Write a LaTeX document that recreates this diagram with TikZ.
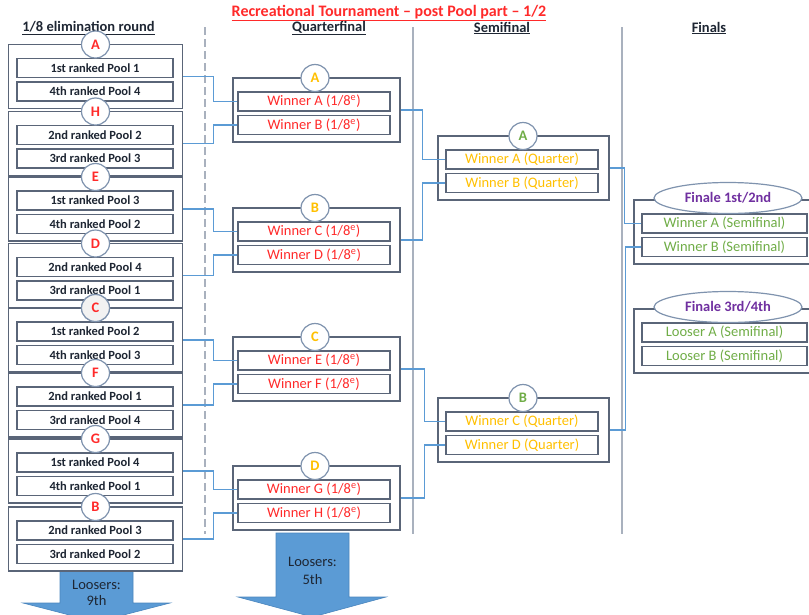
\documentclass[tikz,border=0pt]{standalone}
\usepackage{fontspec}
\setmainfont{Carlito}
\usetikzlibrary{shapes.geometric}
\definecolor{boxc}{HTML}{5A6578}
\definecolor{circc}{HTML}{7F93AE}
\definecolor{connc}{HTML}{5B9BD5}
\definecolor{vline}{HTML}{A9B1BE}
\definecolor{qred}{HTML}{FF2A2A}
\definecolor{qorange}{HTML}{FFC000}
\definecolor{sgreen}{HTML}{70AD47}
\definecolor{fpurple}{HTML}{7030A0}
\definecolor{txtdark}{HTML}{1E2633}
\definecolor{arrowfill}{HTML}{5B9BD5}
\definecolor{arrowline}{HTML}{4A85BD}
\newcommand\ElimGroup[5]{%
  \node[egrp] (#1) at (95.5,#2+32) {};
  \node[eslot] (#1a) at (95,#2+23.5) {#4};
  \node[eslot] (#1b) at (95,#2+47) {#5};
  \node[ltr,text=qred] (#1c) at (95.5,#2) {#3};
}
\newcommand\QuarterGroup[5]{%
  \node[qgrp] (#1) at (316.5,#2+32) {};
  \node[qslot] (#1a) at (314,#2+23.5) {#4};
  \node[qslot] (#1b) at (314,#2+47) {#5};
  \node[ltr,text=qorange] (#1c) at (315,#2) {#3};
}
\newcommand\SemiGroup[5]{%
  \node[sgrp] (#1) at (523.5,#2+32) {};
  \node[sslot] (#1a) at (522,#2+23.5) {#4};
  \node[sslot] (#1b) at (522,#2+47) {#5};
  \node[ltr,text=sgreen] (#1c) at (523,#2) {#3};
}
\newcommand\FinalGroup[5]{%
  \node[fgrp] (#1) at (734,#2+32) {};
  \node[fslot] (#1a) at (724.5,#2+23.5) {#4};
  \node[fslot] (#1b) at (724.5,#2+47) {#5};
  \node[fell] (#1c) at (728,#2-2) {#3};
}
\begin{document}
\begin{tikzpicture}[x=1pt,y=-1pt,
  grpbase/.style={draw=boxc, line width=1.5pt, minimum height=64pt, inner sep=0pt},
  egrp/.style={grpbase, minimum width=174pt},
  qgrp/.style={grpbase, minimum width=167pt},
  sgrp/.style={grpbase, minimum width=171pt},
  fgrp/.style={grpbase, minimum width=200pt},
  slotbase/.style={draw=boxc, line width=1.5pt, fill=white, minimum height=19pt, inner sep=0pt},
  eslot/.style={slotbase, minimum width=156pt, text=txtdark, font=\fontsize{12.5}{13}\selectfont\bfseries},
  qslot/.style={slotbase, minimum width=152pt, text=qred, font=\fontsize{14.5}{15}\selectfont},
  sslot/.style={slotbase, minimum width=152pt, text=qorange, font=\fontsize{14.5}{15}\selectfont},
  fslot/.style={slotbase, minimum width=165pt, text=sgreen, font=\fontsize{14.5}{15}\selectfont},
  ltr/.style={ellipse, draw=circc, line width=1.2pt, fill=white, minimum width=28pt, minimum height=27pt, inner sep=0pt, font=\fontsize{14.5}{15}\selectfont\bfseries},
  fell/.style={ellipse, draw=circc, line width=1.2pt, fill=white, minimum width=148pt, minimum height=31pt, inner sep=0pt, text=fpurple, font=\fontsize{14.5}{15}\selectfont\bfseries},
  conn/.style={draw=connc, line width=1.4pt},
  sepline/.style={draw=vline, line width=1.3pt},
  hdr/.style={text=txtdark, font=\fontsize{14.5}{15}\selectfont\bfseries, inner sep=0pt},
  arrowtxt/.style={text=txtdark, font=\fontsize{14.5}{15}\selectfont, inner sep=0pt, align=center},
  blockarrow/.style={fill=arrowfill, draw=arrowline, line width=0.6pt}
]
\useasboundingbox (0,0) rectangle (809,614);
\clip (0,0) rectangle (809,614);

% separators
\coordinate (d1) at (205,27); \coordinate (d2) at (205,534);
\coordinate (s1) at (413,27); \coordinate (s2) at (413,534);
\coordinate (t1) at (622,27); \coordinate (t2) at (622,534);
\draw[sepline, dash pattern=on 8pt off 4pt] (d1) -- (d2);
\draw[sepline] (s1) -- (s2);
\draw[sepline] (t1) -- (t2);

% title and headers
\node[text=qred, font=\fontsize{16}{17}\selectfont\bfseries, inner sep=0pt] (title) at (389,13) {\underline{Recreational Tournament – post Pool part – 1/2}};
\node[hdr] (h1) at (88.5,28) {\underline{1/8 elimination round}};
\node[hdr] (h2) at (329,28) {\underline{Quarterfinal}};
\node[hdr] (h3) at (502,28) {\underline{Semifinal}};
\node[hdr] (h4) at (709,28) {\underline{Finals}};

% block arrows
\draw[blockarrow] (60,571) -- (133,571) -- (133,603) -- (170,603) -- (96.5,622) -- (23,603) -- (60,603) -- cycle;
\draw[blockarrow] (276,533) -- (349,533) -- (349,597) -- (386,597) -- (312.5,617) -- (238,597) -- (276,597) -- cycle;
\node[arrowtxt] (l9a) at (96.5,585) {Loosers:};
\node[arrowtxt] (l9b) at (96.5,601) {9th};
\node[arrowtxt] (l5a) at (312.5,562) {Loosers:};
\node[arrowtxt] (l5b) at (312.5,580) {5th};

% 1/8 groups
\ElimGroup{gA}{44.5}{A}{1st ranked Pool 1}{4th ranked Pool 4}
\ElimGroup{gH}{111.5}{H}{2nd ranked Pool 2}{3rd ranked Pool 3}
\ElimGroup{gE}{177}{E}{1st ranked Pool 3}{4th ranked Pool 2}
\ElimGroup{gD}{243.5}{D}{2nd ranked Pool 4}{3rd ranked Pool 1}
\ElimGroup{gC}{308}{C}{1st ranked Pool 2}{4th ranked Pool 3}
\ElimGroup{gF}{373}{F}{2nd ranked Pool 1}{3rd ranked Pool 4}
\ElimGroup{gG}{439}{G}{1st ranked Pool 4}{4th ranked Pool 1}
\ElimGroup{gB}{507}{B}{2nd ranked Pool 3}{3rd ranked Pool 2}
\node[ltr,text=qred,fill=gray!10] at (gCc) {C};

% quarter groups
\QuarterGroup{qA}{78}{A}{Winner A (1/8\textsuperscript{e})}{Winner B (1/8\textsuperscript{e})}
\QuarterGroup{qB}{208}{B}{Winner C (1/8\textsuperscript{e})}{Winner D (1/8\textsuperscript{e})}
\QuarterGroup{qC}{337}{C}{Winner E (1/8\textsuperscript{e})}{Winner F (1/8\textsuperscript{e})}
\QuarterGroup{qD}{466}{D}{Winner G (1/8\textsuperscript{e})}{Winner H (1/8\textsuperscript{e})}

% semifinal groups
\SemiGroup{sA}{136}{A}{Winner A (Quarter)}{Winner B (Quarter)}
\SemiGroup{sB}{398}{B}{Winner C (Quarter)}{Winner D (Quarter)}

% finals
\FinalGroup{fA}{200}{Finale 1st/2nd}{Winner A (Semifinal)}{Winner B (Semifinal)}
\FinalGroup{fB}{309}{Finale 3rd/4th}{Looser A (Semifinal)}{Looser B (Semifinal)}

% connectors
\draw[conn] (gA.east) -- ++(30,0) |- (qAa.west);
\draw[conn] (gH.east) -- ++(30,0) |- (qAb.west);
\draw[conn] (gE.east) -- ++(30,0) |- (qBa.west);
\draw[conn] (gD.east) -- ++(30,0) |- (qBb.west);
\draw[conn] (gC.east) -- ++(30,0) |- (qCa.west);
\draw[conn] (gF.east) -- ++(30,0) |- (qCb.west);
\draw[conn] (gG.east) -- ++(30,0) |- (qDa.west);
\draw[conn] (gB.east) -- ++(30,0) |- (qDb.west);
\draw[conn] (qA.east) -- ++(22,0) |- (sAa.west);
\draw[conn] (qB.east) -- ++(22,0) |- (sAb.west);
\draw[conn] (qC.east) -- ++(24,0) |- (sBa.west);
\draw[conn] (qD.east) -- ++(24,0) |- (sBb.west);
\draw[conn] (sA.east) -- ++(15,0) |- (fAa.west);
\draw[conn] (sB.east) -- ++(16,0) |- (fAb.west);
\end{tikzpicture}
\end{document}
